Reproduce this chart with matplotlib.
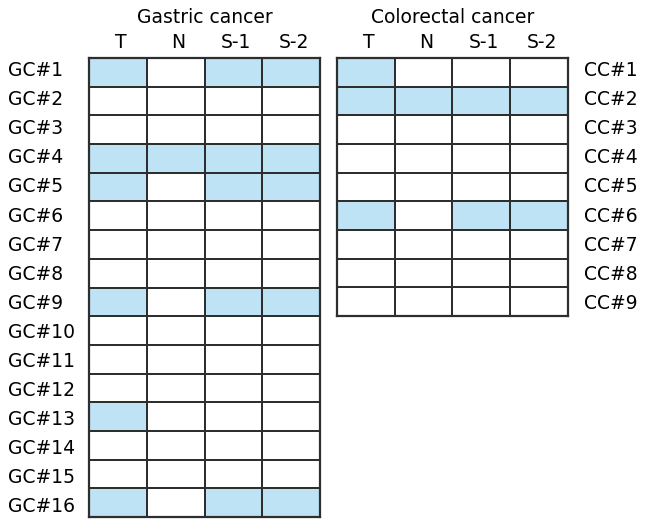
import numpy as np
import matplotlib
matplotlib.use("Agg")
import matplotlib.pyplot as plt
from matplotlib.colors import ListedColormap

# 표 데이터 (1 = 색칠된 칸)
cols = ["T", "N", "S-1", "S-2"]
gc_rows = ["GC#%d" % i for i in range(1, 17)]
cc_rows = ["CC#%d" % i for i in range(1, 10)]

gc_T = [1, 0, 0, 1, 1, 0, 0, 0, 1, 0, 0, 0, 1, 0, 0, 1]
gc_N = [0, 0, 0, 1, 0, 0, 0, 0, 0, 0, 0, 0, 0, 0, 0, 0]
gc_S1 = [1, 0, 0, 1, 1, 0, 0, 0, 1, 0, 0, 0, 0, 0, 0, 1]
gc_S2 = [1, 0, 0, 1, 1, 0, 0, 0, 1, 0, 0, 0, 0, 0, 0, 1]

cc_T = [1, 1, 0, 0, 0, 1, 0, 0, 0]
cc_N = [0, 1, 0, 0, 0, 0, 0, 0, 0]
cc_S1 = [0, 1, 0, 0, 0, 1, 0, 0, 0]
cc_S2 = [0, 1, 0, 0, 0, 1, 0, 0, 0]

W, H = 648, 531
fill = "#bde3f5"
line = "#2e2e2e"
cmap = ListedColormap(["white", fill])
fs = 13.5

fig = plt.figure(figsize=(W / 100, H / 100), dpi=100)


def grid(px_left, px_top, px_w, px_h, mat, rows, title, label_x):
    ax = fig.add_axes([px_left / W, 1 - (px_top + px_h) / H, px_w / W, px_h / H])
    m = np.array(mat).T
    ax.pcolormesh(np.arange(m.shape[1] + 1), np.arange(m.shape[0] + 1), m,
                  cmap=cmap, vmin=0, vmax=1, edgecolors=line, linewidth=1.4)
    ax.set_xlim(0, m.shape[1])
    ax.set_ylim(m.shape[0], 0)
    ax.set_xticks([])
    ax.set_yticks([])
    for s in ax.spines.values():
        s.set_color(line)
        s.set_linewidth(1.6)
    # 열 이름, 제목
    for j, c in enumerate(cols):
        ax.text(j + 0.55, -0.35, c, ha="center", va="baseline", fontsize=fs,
                clip_on=False)
    ax.text(m.shape[1] / 2, -1.22, title, ha="center", va="baseline",
            fontsize=fs, clip_on=False)
    # 행 이름 (글자 간격이 칸보다 살짝 넓음)
    x_ax = (label_x - px_left) / px_w
    for i, r in enumerate(rows):
        base_px = 76 + i * 29.1
        y_ax = 1 - (base_px - px_top) / px_h
        ax.text(x_ax, y_ax, r, ha="left", va="baseline", fontsize=fs,
                transform=ax.transAxes, clip_on=False)
    return ax


grid(89, 58, 231, 459, [gc_T, gc_N, gc_S1, gc_S2], gc_rows,
     "Gastric cancer", 8)
grid(337, 58, 231, 258, [cc_T, cc_N, cc_S1, cc_S2], cc_rows,
     "Colorectal cancer", 584)

fig.savefig("out.png", dpi=100)
plt.close(fig)
